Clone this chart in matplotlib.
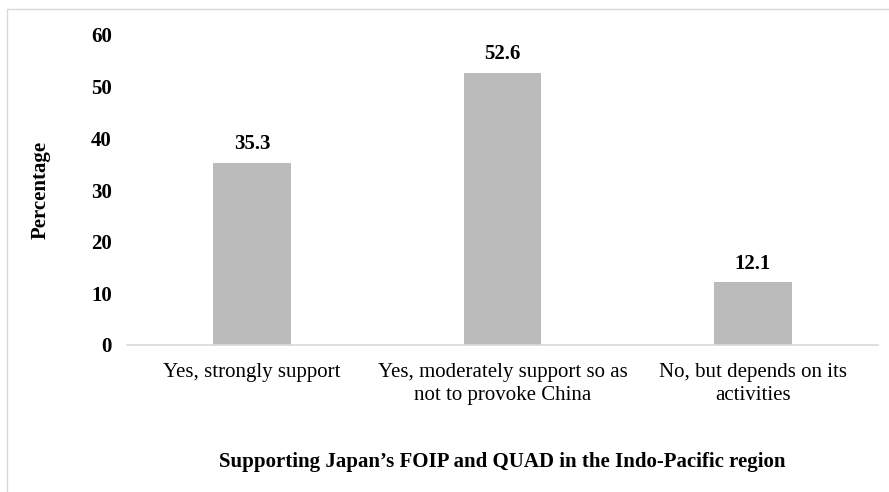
import matplotlib.pyplot as plt
from matplotlib.patches import Rectangle

categories = ["Yes, strongly support",
              "Yes, moderately support so as\nnot to provoke China",
              "No, but depends on its\nactivities"]
values = [35.3, 52.6, 12.1]
yticks = [0, 10, 20, 30, 40, 50, 60]

plt.rcParams['font.family'] = ['Liberation Serif', 'DejaVu Serif']

fig = plt.figure(figsize=(8.89, 4.92), dpi=100)
fig.patches.append(Rectangle((7 / 889, -0.1), 1.1, 1 - 9 / 492 + 0.1,
                             transform=fig.transFigure, fill=False,
                             edgecolor='#D9D9D9', linewidth=1))
ax = fig.add_axes([127 / 889, 147 / 492, 751 / 889, 310 / 492])

x = range(len(categories))
ax.bar(x, values, width=0.31, color='#BBBBBB')
for xi, v in zip(x, values):
    ax.text(xi, v + 1.7, f"{v:.1f}", ha='center', va='bottom',
            fontsize=15, fontweight='bold')

ax.set_xlim(-0.5, 2.5)
ax.set_ylim(0, 60)
ax.set_yticks(yticks)
ax.set_yticklabels([str(t) for t in yticks], fontsize=15, fontweight='bold')
ax.set_xticks(list(x))
ax.set_xticklabels(categories, fontsize=15, linespacing=1.25)
ax.tick_params(axis='y', length=0, pad=11)
ax.tick_params(axis='x', length=0, pad=13)

for s in ['top', 'right', 'left']:
    ax.spines[s].set_visible(False)
ax.spines['bottom'].set_color('#D9D9D9')
ax.spines['bottom'].set_linewidth(1.2)

ax.set_ylabel("Percentage", fontsize=15, fontweight='bold', labelpad=29)
ax.set_xlabel("Supporting Japan\u2019s FOIP and QUAD in the Indo-Pacific region",
              fontsize=15, fontweight='bold', labelpad=34)

fig.savefig("out.png", dpi=100)
